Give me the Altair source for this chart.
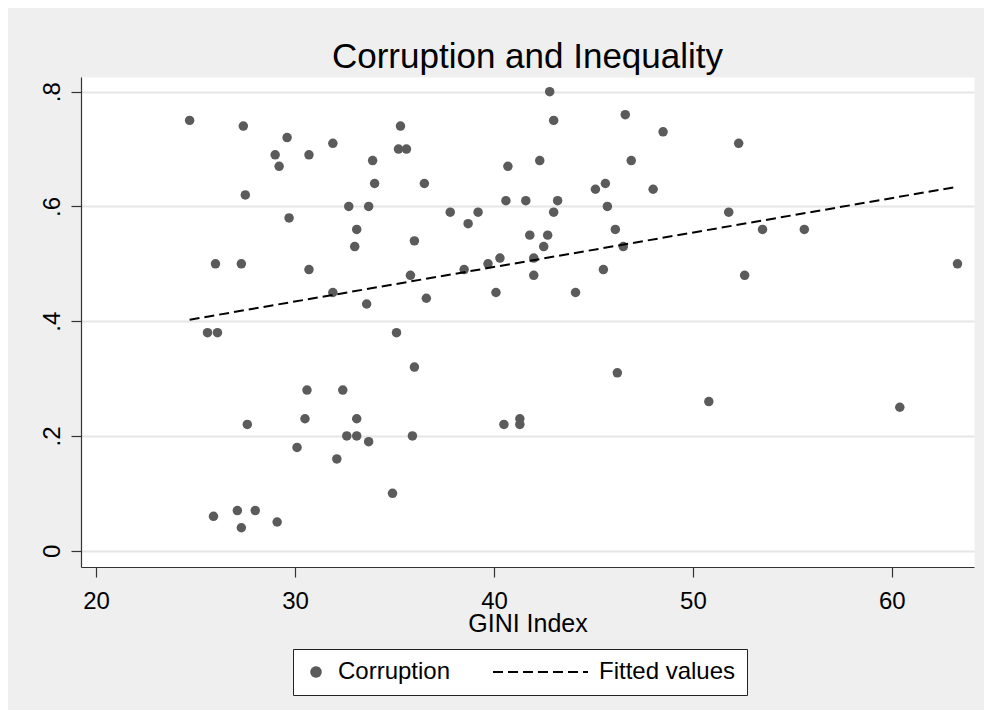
import altair as alt
import pandas as pd

# ---- data ----
gini = [24.7, 27.4, 29.6, 29.0, 29.2, 30.7, 31.9, 33.9, 34.0, 27.5,
        32.7, 33.7, 29.7, 33.1, 33.0, 26.0, 27.3, 30.7, 31.9, 33.6,
        42.8, 43.0, 35.3, 35.2, 35.6, 46.6, 48.5, 40.7, 42.3, 36.5,
        46.9, 45.1, 45.6, 48.0, 40.6, 41.6, 43.2, 45.7, 43.0, 37.8,
        39.2, 38.7, 36.0, 41.8, 42.7, 46.1, 42.5, 46.5, 40.3, 42.0,
        39.7, 38.5, 45.5, 35.8, 42.0, 36.6, 40.1, 44.1, 52.3, 51.8,
        53.5, 55.6, 52.6, 63.3, 25.6, 26.1, 30.6, 32.4, 30.5, 33.1,
        27.6, 32.6, 33.1, 33.7, 30.1, 32.1, 25.9, 27.1, 28.0, 27.3,
        29.1, 35.1, 36.0, 46.2, 40.5, 41.3, 41.3, 35.9, 34.9, 50.8,
        60.4]
corruption = [0.75, 0.74, 0.72, 0.69, 0.67, 0.69, 0.71, 0.68, 0.64, 0.62,
              0.60, 0.60, 0.58, 0.56, 0.53, 0.50, 0.50, 0.49, 0.45, 0.43,
              0.80, 0.75, 0.74, 0.70, 0.70, 0.76, 0.73, 0.67, 0.68, 0.64,
              0.68, 0.63, 0.64, 0.63, 0.61, 0.61, 0.61, 0.60, 0.59, 0.59,
              0.59, 0.57, 0.54, 0.55, 0.55, 0.56, 0.53, 0.53, 0.51, 0.51,
              0.50, 0.49, 0.49, 0.48, 0.48, 0.44, 0.45, 0.45, 0.71, 0.59,
              0.56, 0.56, 0.48, 0.50, 0.38, 0.38, 0.28, 0.28, 0.23, 0.23,
              0.22, 0.20, 0.20, 0.19, 0.18, 0.16, 0.06, 0.07, 0.07, 0.04,
              0.05, 0.38, 0.32, 0.31, 0.22, 0.23, 0.22, 0.20, 0.10, 0.26,
              0.25]
series_names = ["Corruption", "Fitted values"]
x_ticks = [20, 30, 40, 50, 60]
y_ticks = [0, 0.2, 0.4, 0.6, 0.8]

df = pd.DataFrame({"gini": gini, "corr": corruption})
df["series"] = series_names[0]

FONT = "Liberation Sans, Arial, sans-serif"
colors = ["#5b5b5b", "#000000"]

x_enc = alt.X(
    "gini:Q",
    scale=alt.Scale(domain=[19.24, 64.13], nice=False, zero=False),
    axis=alt.Axis(values=x_ticks, title="GINI Index", grid=False, tickSize=10,
                  labelPadding=12, labelFontSize=24, titleFontSize=25,
                  titleFontWeight="normal", titleY=64, titleBaseline="alphabetic",
                  format="d"),
)
y_enc = alt.Y(
    "corr:Q",
    scale=alt.Scale(domain=[-0.0284, 0.8256], nice=False, zero=False),
    axis=alt.Axis(values=y_ticks, title=None, grid=True, gridColor="#e6e6e6",
                  gridWidth=2, tickSize=10, labelAngle=270, labelAlign="center",
                  labelBaseline="alphabetic", labelPadding=12, labelFontSize=24,
                  labelExpr="datum.value == 0 ? '0' : '.' + format(datum.value * 10, 'd')"),
)

leg = alt.Legend(title=None, orient="none", legendX=212, legendY=572,
                 direction="horizontal", fillColor="white", strokeColor="#222222",
                 padding=11, labelFontSize=24, labelOffset=10, columnPadding=41,
                 symbolStrokeWidth=2, clipHeight=24, labelFont=FONT)

points = alt.Chart(df).mark_point(filled=True, opacity=1).encode(
    x=x_enc,
    y=y_enc,
    fill=alt.Fill("series:N", scale=alt.Scale(domain=series_names, range=colors), legend=leg),
    shape=alt.Shape("series:N", scale=alt.Scale(domain=series_names, range=["circle", "stroke"]), legend=leg),
    size=alt.Size("series:N", scale=alt.Scale(domain=series_names, range=[90, 9025]), legend=leg),
)

fit = alt.Chart(df).transform_regression("gini", "corr").transform_calculate(
    series="'Fitted values'"
).mark_line(strokeWidth=2).encode(
    x="gini:Q",
    y="corr:Q",
    stroke=alt.Stroke("series:N", scale=alt.Scale(domain=series_names, range=colors), legend=leg),
    strokeDash=alt.StrokeDash("series:N", scale=alt.Scale(domain=series_names, range=[[1, 0], [10, 5]]), legend=leg),
)

chart = alt.layer(points, fit).properties(
    width=893,
    height=490,
    autosize=alt.AutoSizeParams(type="none"),
    padding={"left": 73, "top": 69, "right": 10, "bottom": 143},
    background="#efefef",
    title=alt.TitleParams("Corruption and Inequality", fontSize=35, font=FONT,
                          fontWeight="normal", anchor="middle", frame="group",
                          baseline="alphabetic", offset=13, dy=39, color="black"),
).configure_view(
    fill="white", stroke="transparent"
).configure_axis(
    labelFont=FONT, titleFont=FONT, labelColor="black", titleColor="black",
    domainColor="#333333", domainWidth=1.2, tickColor="#333333", tickWidth=1.2,
)

chart.save("out.html", embed_options={"renderer": "svg", "actions": False})
